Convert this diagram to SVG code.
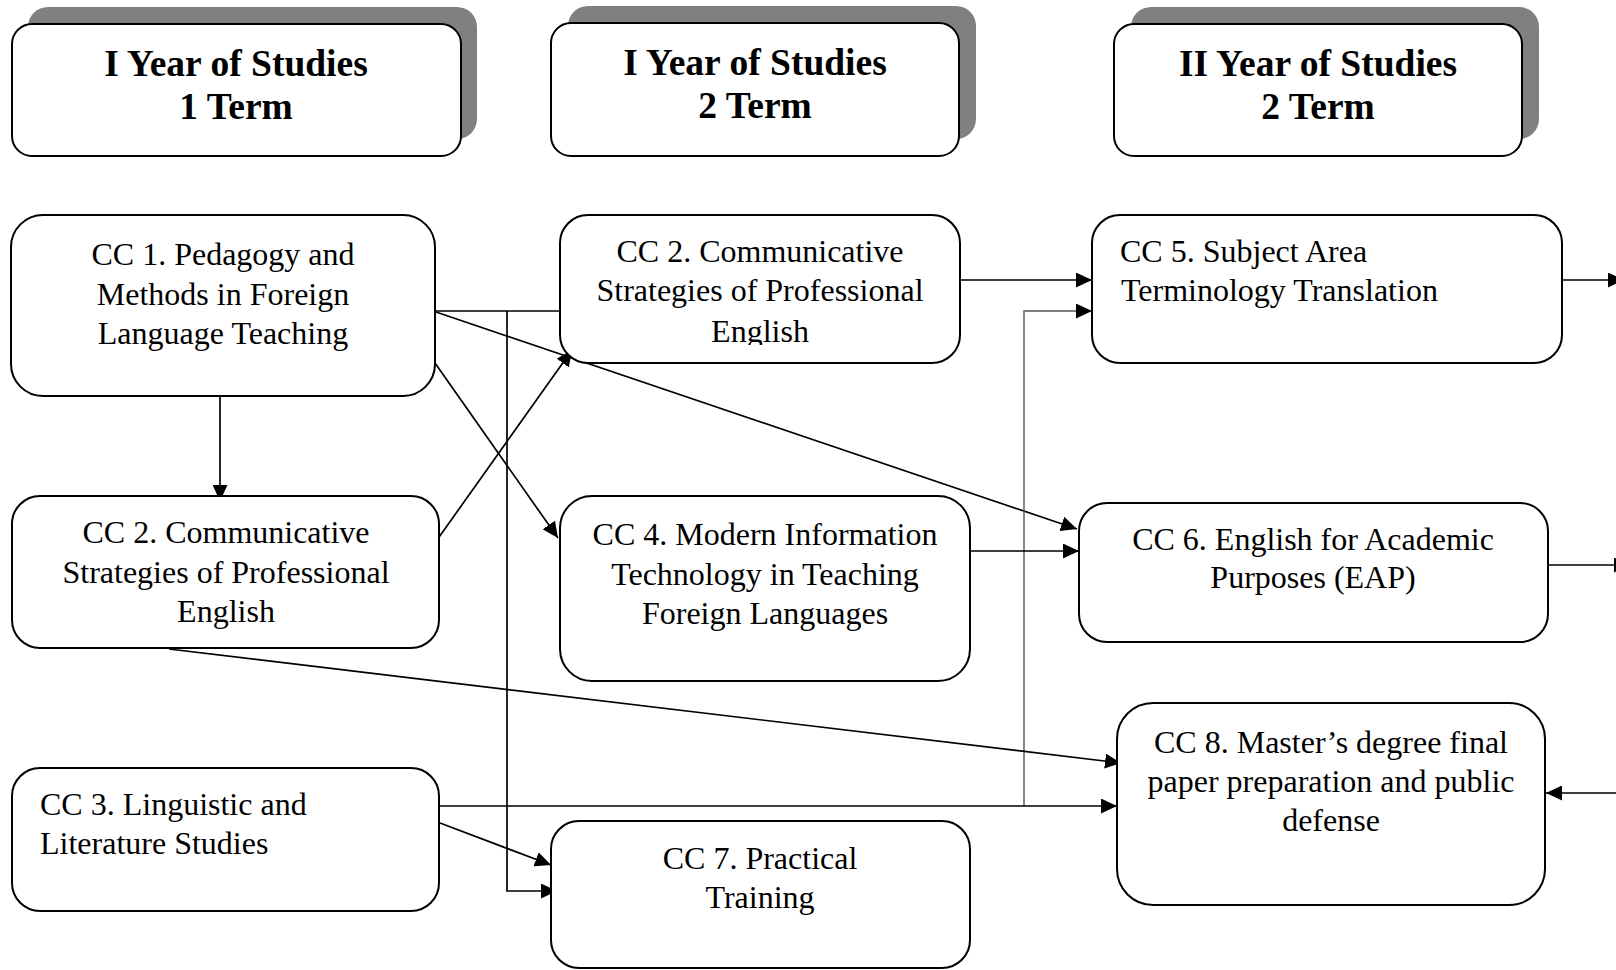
<svg xmlns="http://www.w3.org/2000/svg" width="1616" height="970" viewBox="0 0 1616 970">
<style>
.box{fill:#fff;stroke:#000;stroke-width:2}
.shadow{fill:#808080;stroke:none}
.hdr{font-family:"Liberation Serif","Times New Roman",serif;font-weight:bold;font-size:37.5px;fill:#000;text-anchor:middle}
.t{font-family:"Liberation Serif","Times New Roman",serif;font-size:32px;fill:#000;text-anchor:middle}
.tl{font-family:"Liberation Serif","Times New Roman",serif;font-size:32px;fill:#000}
.c{fill:none;stroke:#000;stroke-width:1.7}
.g{fill:none;stroke:#555;stroke-width:1.4}
</style>
<defs>
<marker id="ah" markerUnits="userSpaceOnUse" markerWidth="17" markerHeight="15" refX="16" refY="7.5" orient="auto">
<path d="M0,0 L16,7.5 L0,15 z" fill="#000"/>
</marker>
<clipPath id="clipE"><rect x="560" y="215" width="400" height="130"/></clipPath>
</defs>
<rect width="1616" height="970" fill="#fff"/>

<g id="hdr1">
<rect class="shadow" x="28" y="7" width="449" height="132" rx="20"/>
<rect class="box" x="12" y="24" width="449" height="132" rx="20"/>
<text class="hdr" x="236" y="76">I Year of Studies</text>
<text class="hdr" x="236" y="119">1 Term</text>
</g>
<g id="hdr2">
<rect class="shadow" x="568" y="6" width="408" height="133" rx="20"/>
<rect class="box" x="551" y="23" width="408" height="133" rx="20"/>
<text class="hdr" x="755" y="75">I Year of Studies</text>
<text class="hdr" x="755" y="118">2 Term</text>
</g>
<g id="hdr3">
<rect class="shadow" x="1131" y="7" width="408" height="132" rx="20"/>
<rect class="box" x="1114" y="24" width="408" height="132" rx="20"/>
<text class="hdr" x="1318" y="76">II Year of Studies</text>
<text class="hdr" x="1318" y="119">2 Term</text>
</g>

<g id="connectors">
<line class="c" x1="220" y1="396" x2="220" y2="501" marker-end="url(#ah)"/>
<line class="c" x1="436" y1="311" x2="560" y2="311"/>
<polyline class="c" points="507,311 507,891 557,891" marker-end="url(#ah)"/>
<line class="c" x1="436" y1="312" x2="1077" y2="529" marker-end="url(#ah)"/>
<line class="c" x1="437" y1="540" x2="572" y2="350" marker-end="url(#ah)"/>
<line class="c" x1="435" y1="363" x2="558" y2="538" marker-end="url(#ah)"/>
<line class="c" x1="960" y1="280" x2="1092" y2="280" marker-end="url(#ah)"/>
<polyline class="g" points="1024,806 1024,311 1092,311" marker-end="url(#ah)"/>
<line class="c" x1="970" y1="551" x2="1079" y2="551" marker-end="url(#ah)"/>
<line class="c" x1="440" y1="806" x2="1117" y2="806" marker-end="url(#ah)"/>
<line class="c" x1="440" y1="823" x2="551" y2="865" marker-end="url(#ah)"/>
<line class="c" x1="169" y1="649" x2="1121" y2="763" marker-end="url(#ah)"/>
<line class="c" x1="1562" y1="280" x2="1624" y2="280" marker-end="url(#ah)"/>
<line class="c" x1="1549" y1="565" x2="1630" y2="565" marker-end="url(#ah)"/>
<line class="c" x1="1616" y1="793" x2="1546" y2="793" marker-end="url(#ah)"/>
</g>

<g id="cc1">
<rect class="box" x="11" y="215" width="424" height="181" rx="32"/>
<text class="t" x="223" y="265">CC 1. Pedagogy and</text>
<text class="t" x="223" y="305">Methods in Foreign</text>
<text class="t" x="223" y="344">Language Teaching</text>
</g>
<g id="cc2a">
<rect class="box" x="560" y="215" width="400" height="148" rx="28"/>
<text class="t" x="760" y="262">CC 2. Communicative</text>
<text class="t" x="760" y="301">Strategies of Professional</text>
<text class="t" x="760" y="342" clip-path="url(#clipE)">English</text>
</g>
<g id="cc5">
<rect class="box" x="1092" y="215" width="470" height="148" rx="28"/>
<text class="tl" x="1120" y="262">CC 5. Subject Area</text>
<text class="tl" x="1121" y="301">Terminology Translation</text>
</g>
<g id="cc2b">
<rect class="box" x="12" y="496" width="427" height="152" rx="28"/>
<text class="t" x="226" y="543">CC 2. Communicative</text>
<text class="t" x="226" y="583">Strategies of Professional</text>
<text class="t" x="226" y="622">English</text>
</g>
<g id="cc4">
<rect class="box" x="560" y="496" width="410" height="185" rx="32"/>
<text class="t" x="765" y="545">CC 4. Modern Information</text>
<text class="t" x="765" y="585">Technology in Teaching</text>
<text class="t" x="765" y="624">Foreign Languages</text>
</g>
<g id="cc6">
<rect class="box" x="1079" y="503" width="469" height="139" rx="28"/>
<text class="t" x="1313" y="550">CC 6. English for Academic</text>
<text class="t" x="1313" y="588">Purposes (EAP)</text>
</g>
<g id="cc3">
<rect class="box" x="12" y="768" width="427" height="143" rx="28"/>
<text class="tl" x="40" y="815">CC 3. Linguistic and</text>
<text class="tl" x="40" y="854">Literature Studies</text>
</g>
<g id="cc7">
<rect class="box" x="551" y="821" width="419" height="147" rx="28"/>
<text class="t" x="760" y="869">CC 7. Practical</text>
<text class="t" x="760" y="908">Training</text>
</g>
<g id="cc8">
<rect class="box" x="1117" y="703" width="428" height="202" rx="36"/>
<text class="t" x="1331" y="753">CC 8. Master’s degree final</text>
<text class="t" x="1331" y="792">paper preparation and public</text>
<text class="t" x="1331" y="831">defense</text>
</g>
</svg>
